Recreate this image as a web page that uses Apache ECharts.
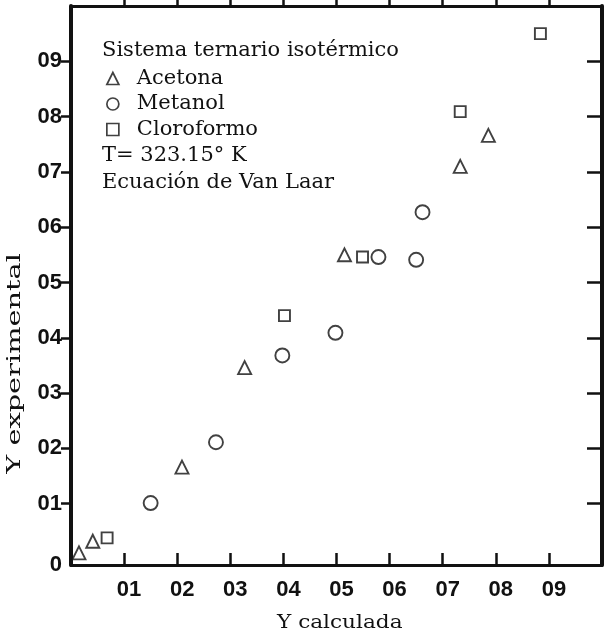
<!DOCTYPE html>
<html>
<head>
<meta charset="utf-8">
<script src="https://cdn.jsdelivr.net/npm/echarts@6/dist/echarts.min.js"></script>
<style>
  html, body { margin: 0; padding: 0; background: #fff; }
  #chart { width: 611px; height: 639px; }
</style>
</head>
<body>
<div id="chart"></div>
<script>
// Tick positions and their printed labels (decimal points are omitted on the plot)
const tickValues = [0.1, 0.2, 0.3, 0.4, 0.5, 0.6, 0.7, 0.8, 0.9];
const xTickLabels = ['01', '02', '03', '04', '05', '06', '07', '08', '09'];
const yTickLabels = ['0', '01', '02', '03', '04', '05', '06', '07', '08', '09'];

// Vapour-phase mole fractions: [Y calculada, Y experimental]
const acetona = [[0.015, 0.011], [0.041, 0.032], [0.209, 0.166], [0.327, 0.346], [0.515, 0.550], [0.733, 0.710], [0.786, 0.766]];
const metanol = [[0.150, 0.101], [0.273, 0.211], [0.398, 0.368], [0.498, 0.409], [0.579, 0.546], [0.650, 0.541], [0.662, 0.627]];
const cloroformo = [[0.068, 0.038], [0.402, 0.440], [0.549, 0.546], [0.733, 0.809], [0.884, 0.950]];

const seriesNames = ['Acetona', 'Metanol', 'Cloroformo'];
const infoLines = ['Sistema ternario isotérmico', 'T= 323.15° K', 'Ecuación de Van Laar'];

const Y_MIN = -0.011;
const INK = '#111';
const serif = '"DejaVu Serif", "Liberation Serif", serif';
const labelFont = '"Liberation Sans", Arial, sans-serif';

const chart = echarts.init(document.getElementById('chart'), null, { renderer: 'canvas' });

// Frame sides; the flag picks the tick direction so every tick ends up in the plotting area
const frameLine = width => ({ show: true, onZero: false, lineStyle: { color: INK, width: width } });
const frameTick = (len, width, inside) => ({ show: true, inside: inside, length: len, lineStyle: { color: INK, width: width }, customValues: tickValues });

const markerStyle = { color: '#fff', borderColor: INK, borderWidth: 1.9 };

chart.setOption({
  backgroundColor: '#fff',
  animation: false,
  grid: { left: 71, right: 9, top: 6, bottom: 74, containLabel: false },
  xAxis: [
    {
      type: 'value', position: 'bottom', min: 0, max: 1,
      axisLine: frameLine(3),
      axisTick: frameTick(12, 2.5, true),
      splitLine: { show: false },
      axisLabel: {
        customValues: tickValues,
        margin: 14,
        color: INK, fontFamily: labelFont, fontWeight: 'bold', fontSize: 22,
        padding: [0, 0, 0, 10],
        formatter: v => xTickLabels[Math.round(v * 10) - 1]
      }
    },
    {
      type: 'value', position: 'top', min: 0, max: 1,
      axisLine: frameLine(3),
      axisTick: frameTick(13, 2.5, false),
      splitLine: { show: false },
      axisLabel: { show: false }
    }
  ],
  yAxis: [
    {
      type: 'value', position: 'left', min: Y_MIN, max: 1,
      axisLine: frameLine(4),
      axisTick: frameTick(10, 2.5, false),
      splitLine: { show: false },
      axisLabel: {
        customValues: [Y_MIN].concat(tickValues),
        margin: 9,
        color: INK, fontFamily: labelFont, fontWeight: 'bold', fontSize: 22,
        formatter: v => yTickLabels[Math.round(Math.max(v, 0) * 10)]
      }
    },
    {
      type: 'value', position: 'right', min: Y_MIN, max: 1,
      axisLine: frameLine(4),
      axisTick: frameTick(15, 2.5, true),
      splitLine: { show: false },
      axisLabel: { show: false }
    }
  ],
  legend: {
    orient: 'vertical',
    left: 101, top: 63,
    itemWidth: 12, itemHeight: 12, itemGap: 4.5,
    itemStyle: { color: '#fff', borderColor: INK, borderWidth: 1.7 },
    textStyle: { color: INK, fontFamily: serif, fontSize: 21, lineHeight: 20, padding: [0, 0, 0, 13] },
    data: seriesNames,
    selectedMode: false
  },
  graphic: [
    { type: 'text', left: 102, top: 40, style: { text: infoLines[0], fill: INK, font: '21px ' + serif } },
    { type: 'text', left: 102, top: 145, style: { text: infoLines[1], fill: INK, font: '21px ' + serif } },
    { type: 'text', left: 102, top: 172, style: { text: infoLines[2], fill: INK, font: '21px ' + serif } },
    { type: 'text', left: 6, top: 253, rotation: Math.PI / 2, scaleX: 1.6, style: { text: 'Y experimental', fill: INK, font: '18px ' + serif } },
    { type: 'text', left: 277, top: 614, scaleX: 1.2, style: { text: 'Y calculada', fill: INK, font: '18px ' + serif } }
  ],
  series: [
    { name: seriesNames[0], type: 'scatter', symbol: 'triangle', symbolSize: 13, itemStyle: markerStyle, data: acetona },
    { name: seriesNames[1], type: 'scatter', symbol: 'circle', symbolSize: 14, itemStyle: markerStyle, data: metanol },
    { name: seriesNames[2], type: 'scatter', symbol: 'rect', symbolSize: 11, itemStyle: markerStyle, data: cloroformo }
  ]
});
</script>
</body>
</html>
